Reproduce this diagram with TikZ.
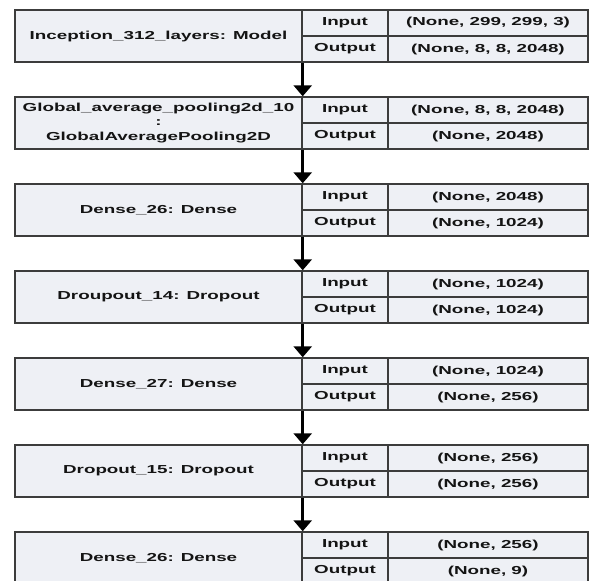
\documentclass[tikz,border=0pt]{standalone}
\usepackage{fontspec}
\usetikzlibrary{arrows.meta}
\newfontfamily\lblfont{Liberation Sans Bold}[FakeStretch=1.62]
\definecolor{cellfill}{RGB}{238,240,245}
\definecolor{cellline}{RGB}{60,60,60}
\definecolor{txt}{RGB}{20,20,20}

% one layer: name cell on the left, Input/Output labels and shapes on the right
\newcommand\layerrow[5]{%
  \node[cell, minimum width=287pt, minimum height=52pt, align=center] (#1n) at (158.5,{#2+26}) {#3};
  \node[cell, minimum width=86pt, minimum height=26pt] (#1i) at (345,{#2+13}) {Input};
  \node[cell, minimum width=86pt, minimum height=26pt] (#1o) at (345,{#2+39}) {Output};
  \node[cell, minimum width=200pt, minimum height=26pt] (#1a) at (488,{#2+13}) {#4};
  \node[cell, minimum width=200pt, minimum height=26pt] (#1b) at (488,{#2+39}) {#5};
}

\begin{document}
\begin{tikzpicture}[x=1pt, y=-1pt,
  cell/.style={draw=cellline, line width=1.4pt, fill=cellfill, text=txt, inner sep=0pt,
    font=\lblfont\fontsize{11.6}{14.5}\selectfont},
  flow/.style={line width=3.5pt, -{Triangle[width=18pt, length=11pt]}}]
  \useasboundingbox (0,0) rectangle (590,581);
  \begin{scope}
    \clip (0,0) rectangle (590,581);
    \layerrow{a}{10}{Inception\_312\_layers: Model}{(None, 299, 299, 3)}{(None, 8, 8, 2048)}
    \layerrow{b}{97}{Global\_average\_pooling2d\_10\\:\\GlobalAveragePooling2D}{(None, 8, 8, 2048)}{(None, 2048)}
    \layerrow{c}{184}{Dense\_26: Dense}{(None, 2048)}{(None, 1024)}
    \layerrow{d}{271}{Droupout\_14: Dropout}{(None, 1024)}{(None, 1024)}
    \layerrow{e}{358}{Dense\_27: Dense}{(None, 1024)}{(None, 256)}
    \layerrow{f}{445}{Dropout\_15: Dropout}{(None, 256)}{(None, 256)}
    \layerrow{g}{532}{Dense\_26: Dense}{(None, 256)}{(None, 9)}
  \end{scope}
  \draw[flow] (an.south east) -- (bn.north east);
  \draw[flow] (bn.south east) -- (cn.north east);
  \draw[flow] (cn.south east) -- (dn.north east);
  \draw[flow] (dn.south east) -- (en.north east);
  \draw[flow] (en.south east) -- (fn.north east);
  \draw[flow] (fn.south east) -- (gn.north east);
\end{tikzpicture}
\end{document}
